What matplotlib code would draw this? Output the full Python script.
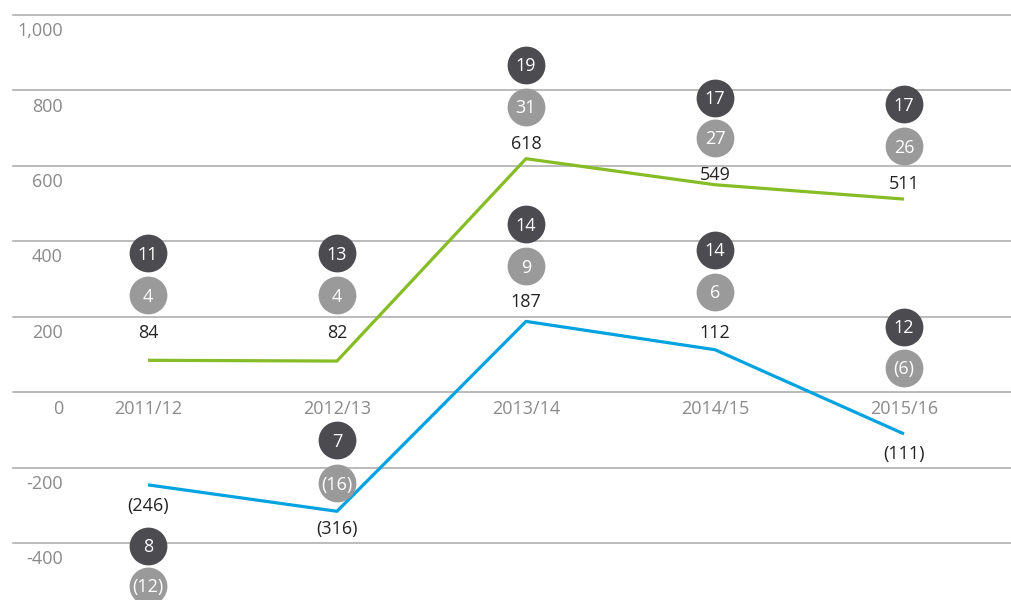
import matplotlib
matplotlib.use("Agg")
import matplotlib.pyplot as plt
import matplotlib.transforms as mtransforms

plt.rcParams['font.family'] = ['Open Sans', 'DejaVu Sans']

years = ['2011/12', '2012/13', '2013/14', '2014/15', '2015/16']
green_vals = [84, 82, 618, 549, 511]
blue_vals = [-246, -316, 187, 112, -111]
green_dark = [11, 13, 19, 17, 17]
green_gray = [4, 4, 31, 27, 26]
blue_dark = [8, 7, 14, 14, 12]
blue_gray = [-12, -16, 9, 6, -6]
yticks = [-400, -200, 0, 200, 400, 600, 800, 1000]

# layout offsets (pixels, positive = up) from each data point
g_lab_off = [29, 30, 16, 11, 17]
g_gray_off = [65, 66, 52, 47, 53]
g_dark_off = [107, 108, 94, 87, 95]
b_lab_off = [-20, -16, 21, 18, -19]
b_dark_off = [-61, 71, 97, 100, 107]
b_gray_off = [-101, 28, 55, 58, 66]
TSHIFT = -1.5  # text baseline correction (px)

GREEN = '#86bc25'
BLUE = '#00a3e0'
DARK = '#4b4b50'
GRAY = '#9a9a9a'
GRID = '#a8a8a8'
TICK = '#8a8a8a'
TXT = '#222222'

def fmt(v):
    return f'({abs(v):,})' if v < 0 else f'{v:,}'

W, H = 1011, 600
fig = plt.figure(figsize=(W / 100, H / 100), dpi=100)
ax = fig.add_axes([0, 0, 1, 1])
ax.set_axis_off()

xs = list(range(len(years)))
px_x = 189.0
ax.set_xlim(-148 / px_x, 4 + (W - 904) / px_x)
ppy = 200 / 75.5
ax.set_ylim(-208 * ppy, (H - 208) * ppy)

def shifted(dy):
    return mtransforms.offset_copy(ax.transData, fig=fig, x=0, y=dy, units='dots')

tick_tr = mtransforms.blended_transform_factory(fig.transFigure, shifted(-16 + TSHIFT + 1))
for t in yticks:
    ax.axhline(t, xmin=13 / W, xmax=1, color=GRID, lw=1.1, zorder=1)
    ax.text(63 / W, t, f'{t:,}', transform=tick_tr,
            ha='right', va='center', fontsize=13, color=TICK)

for i, y in enumerate(years):
    ax.text(i, 0, y, transform=shifted(-15.5 + TSHIFT), ha='center', va='center',
            fontsize=13, color=TICK, zorder=3)

ax.plot(xs, green_vals, color=GREEN, lw=2.3, zorder=4, solid_capstyle='butt')
ax.plot(xs, blue_vals, color=BLUE, lw=2.3, zorder=4, solid_capstyle='butt')

def circle(x, y, off_px, val, color):
    ax.scatter([x], [y], s=740, color=color, transform=shifted(off_px), zorder=5, linewidths=0)
    ax.text(x, y, fmt(val), transform=shifted(off_px + TSHIFT), ha='center', va='center',
            fontsize=13, color='white', zorder=6)

def label(x, y, off_px, val):
    ax.text(x, y, fmt(val), transform=shifted(off_px + TSHIFT), ha='center', va='center',
            fontsize=13, color=TXT, zorder=6)

for i in xs:
    label(i, green_vals[i], g_lab_off[i], green_vals[i])
    circle(i, green_vals[i], g_gray_off[i], green_gray[i], GRAY)
    circle(i, green_vals[i], g_dark_off[i], green_dark[i], DARK)
    label(i, blue_vals[i], b_lab_off[i], blue_vals[i])
    circle(i, blue_vals[i], b_gray_off[i], blue_gray[i], GRAY)
    circle(i, blue_vals[i], b_dark_off[i], blue_dark[i], DARK)

fig.savefig('out.png', dpi=100)
